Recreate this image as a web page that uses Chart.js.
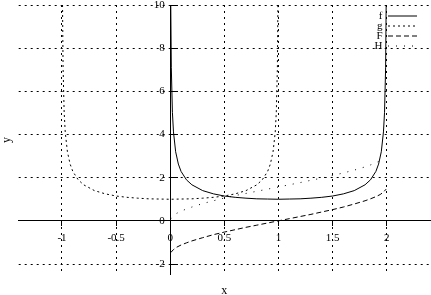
<!DOCTYPE html>
<html>
<head>
<meta charset="utf-8">
<script src="https://cdn.jsdelivr.net/npm/chart.js@4/dist/chart.umd.min.js"></script>
<style>
  html, body { margin: 0; padding: 0; background: #fff; }
  #plot { display: block; }
</style>
</head>
<body>
<canvas id="plot" width="431" height="295"></canvas>
<script>
// values
const xRange = [-1.4, 2.4];
const yRange = [-2.5, 10];
const xTicks = [-1, -0.5, 0, 0.5, 1, 1.5, 2];
const yTicks = [-2, 0, 2, 4, 6, 8, 10];

const fX = [0.005, 0.01, 0.02, 0.03, 0.05, 0.075, 0.1, 0.15, 0.2, 0.3, 0.4, 0.5, 0.6, 0.7, 0.8, 0.9, 1,
            1.1, 1.2, 1.3, 1.4, 1.5, 1.6, 1.7, 1.8, 1.85, 1.9, 1.925, 1.95, 1.97, 1.98, 1.99, 1.995];
const fY = [10, 7.09, 5.03, 4.12, 3.2, 2.63, 2.29, 1.9, 1.67, 1.4, 1.25, 1.15, 1.09, 1.05, 1.02, 1.01, 1,
            1.01, 1.02, 1.05, 1.09, 1.15, 1.25, 1.4, 1.67, 1.9, 2.29, 2.63, 3.2, 4.12, 5.03, 7.09, 10];

const gX = [-0.995, -0.99, -0.98, -0.97, -0.95, -0.925, -0.9, -0.85, -0.8, -0.7, -0.6, -0.5, -0.4, -0.3, -0.2, -0.1, 0,
            0.1, 0.2, 0.3, 0.4, 0.5, 0.6, 0.7, 0.8, 0.85, 0.9, 0.925, 0.95, 0.97, 0.98, 0.99, 0.995];
const gY = [10, 7.09, 5.03, 4.11, 3.2, 2.63, 2.29, 1.9, 1.67, 1.4, 1.25, 1.15, 1.09, 1.05, 1.02, 1.01, 1,
            1.01, 1.02, 1.05, 1.09, 1.15, 1.25, 1.4, 1.67, 1.9, 2.29, 2.63, 3.2, 4.11, 5.03, 7.09, 10];

const bigFX = [0.005, 0.03, 0.06, 0.1, 0.15, 0.2, 0.3, 0.4, 0.5, 0.6, 0.7, 0.8, 0.9, 1,
               1.1, 1.2, 1.3, 1.4, 1.5, 1.6, 1.7, 1.8, 1.85, 1.9, 1.94, 1.97, 1.995];
const bigFY = [-1.47, -1.33, -1.22, -1.12, -1.02, -0.93, -0.78, -0.64, -0.52, -0.41, -0.3, -0.2, -0.1, 0,
               0.1, 0.2, 0.3, 0.41, 0.52, 0.64, 0.78, 0.93, 1.02, 1.12, 1.22, 1.33, 1.47];

const hX = [0.005, 0.03, 0.06, 0.1, 0.15, 0.2, 0.3, 0.4, 0.5, 0.6, 0.7, 0.8, 0.9, 1,
            1.1, 1.2, 1.3, 1.4, 1.5, 1.6, 1.7, 1.8, 1.85, 1.9, 1.94, 1.97];
const hY = [0.1, 0.25, 0.35, 0.45, 0.55, 0.64, 0.8, 0.93, 1.06, 1.17, 1.27, 1.37, 1.47, 1.57,
            1.67, 1.77, 1.88, 1.98, 2.1, 2.22, 2.35, 2.5, 2.59, 2.69, 2.79, 2.88];

const seriesNames = ['f', 'g', 'F', 'H'];
const seriesDash = [[], [2, 3], [5, 3], [1, 7]];

Chart.defaults.font.family = 'Liberation Serif';
Chart.defaults.font.size = 11;
Chart.defaults.color = '#000';

function curve(i, xs, ys) {
    return {
        label: seriesNames[i],
        data: xs.map((x, k) => ({ x: x, y: ys[k] })),
        xAxisID: 'x',
        yAxisID: 'y',
        showLine: true,
        borderColor: '#000',
        backgroundColor: '#000',
        borderWidth: 1,
        borderDash: seriesDash[i],
        pointRadius: 0,
        pointHoverRadius: 0,
        fill: false,
        tension: 0
    };
}

// axes sit on the zero lines and should not eat into the layout
function noSpace(s) {
    if (s.isHorizontal()) s.height = 0; else s.width = 0;
    s.paddingLeft = s.paddingRight = s.paddingTop = s.paddingBottom = 0;
}

// put the legend in the upper right corner of the plot
const legendCorner = {
    id: 'legendCorner',
    afterLayout(chart) {
        const lg = chart.legend;
        const ca = chart.chartArea;
        const pad = lg.options.labels.padding;
        lg.left = ca.right - 12 + pad - lg.width;
        lg.right = lg.left + lg.width;
        lg.top = ca.top + 5.5 - pad;
        lg.bottom = lg.top + lg.height;
    }
};

new Chart(document.getElementById('plot'), {
    type: 'scatter',
    data: {
        datasets: [
            curve(0, fX, fY),
            curve(1, gX, gY),
            curve(2, bigFX, bigFY),
            curve(3, hX, hY)
        ]
    },
    options: {
        responsive: false,
        animation: false,
        devicePixelRatio: 1,
        layout: { padding: { top: 5, right: 1, left: 0, bottom: 0 } },
        scales: {
            x: {
                type: 'linear',
                axis: 'x',
                position: { y: 0 },
                min: xRange[0],
                max: xRange[1],
                afterBuildTicks: s => { s.ticks = xTicks.map(v => ({ value: v })); },
                afterFit: noSpace,
                grid: { color: '#000', lineWidth: 1, tickLength: 5, tickColor: '#000' },
                border: { display: true, color: '#000', width: 1, dash: [2, 4] },
                ticks: { color: '#000', padding: 6, maxRotation: 0, autoSkip: false, callback: v => String(v) }
            },
            y: {
                type: 'linear',
                axis: 'y',
                position: { x: 0 },
                min: yRange[0],
                max: yRange[1],
                afterBuildTicks: s => { s.ticks = yTicks.map(v => ({ value: v })); },
                afterFit: noSpace,
                grid: { color: '#000', lineWidth: 1, tickLength: -8, tickColor: '#000' },
                border: { display: true, color: '#000', width: 1, dash: [2, 4] },
                // en space keeps the right-aligned labels off the axis line
                ticks: { color: '#000', autoSkip: false, callback: v => String(v) + '\u2002' }
            },
            xt: {
                type: 'linear',
                axis: 'x',
                position: 'bottom',
                grid: { display: false, drawTicks: false },
                border: { display: false },
                ticks: { display: false },
                title: { display: true, text: 'x', color: '#000', font: { size: 12 }, padding: { top: 8.8, bottom: -3 } }
            },
            yt: {
                type: 'linear',
                axis: 'y',
                position: 'left',
                grid: { display: false, drawTicks: false },
                border: { display: false },
                ticks: { display: false },
                title: { display: true, text: 'y', color: '#000', font: { size: 12 }, padding: { top: 0, bottom: 4.3 } }
            }
        },
        plugins: {
            legend: {
                position: 'chartArea',
                align: 'start',
                rtl: true,
                labels: {
                    color: '#000',
                    font: { size: 11 },
                    usePointStyle: true,
                    pointStyle: 'line',
                    pointStyleWidth: 30,
                    padding: -1,
                    generateLabels(chart) {
                        const items = Chart.defaults.plugins.legend.labels.generateLabels(chart);
                        return items.map((it, i) => Object.assign(it, {
                            lineDash: seriesDash[i],
                            pointStyle: 'line',
                            lineWidth: 1,
                            strokeStyle: '#000',
                            fillStyle: '#000'
                        }));
                    }
                }
            },
            tooltip: { enabled: false }
        }
    },
    plugins: [legendCorner]
});
</script>
</body>
</html>
